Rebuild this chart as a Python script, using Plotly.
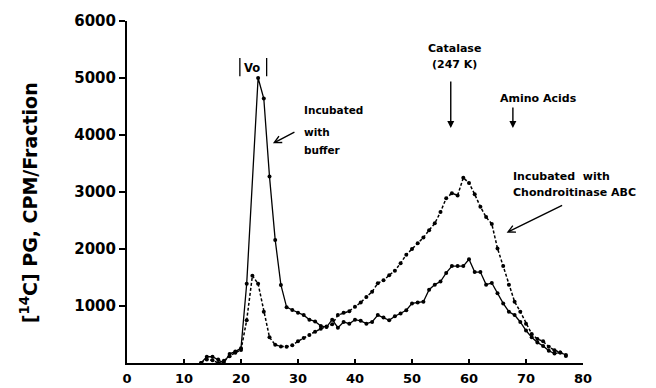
import plotly.graph_objects as go

# ---- data ----
fractions_buffer = [13, 14, 15, 16, 17, 18, 19, 20, 21, 23, 24, 25, 26, 27, 28, 29, 30,
                    31, 32, 33, 34, 35, 36, 37, 38, 39, 40, 41, 42, 43, 44, 45, 46, 47,
                    48, 49, 50, 51, 52, 53, 54, 55, 56, 57, 58, 59, 60, 61, 62, 63, 64,
                    65, 66, 67, 68, 69, 70, 71, 72, 73, 74, 75, 76, 77]
cpm_buffer = [0, 110, 110, 60, 0, 160, 200, 260, 1390, 5000, 4640, 3270, 2160, 1370, 980, 930, 880,
              840, 760, 730, 650, 630, 760, 620, 720, 690, 760, 740, 690, 720, 840, 800, 750, 820,
              870, 925, 1045, 1060, 1075, 1285, 1375, 1430, 1580, 1700, 1700, 1700, 1820, 1595, 1595, 1375, 1405,
              1225, 1045, 900, 840, 720, 570, 450, 360, 300, 215, 165, 185, 140]

fractions_abc = [13, 14, 15, 16, 17, 18, 19, 20, 21, 22, 23, 24, 25, 26, 27, 28, 29, 30,
                 31, 32, 33, 34, 35, 36, 37, 38, 39, 40, 41, 42, 43, 44, 45, 46, 47,
                 48, 49, 50, 51, 52, 53, 54, 55, 56, 57, 58, 59, 60, 61, 62, 63, 64,
                 65, 66, 67, 68, 69, 70, 71, 72, 73, 74, 75, 76, 77]
cpm_abc = [0, 60, 50, 0, 40, 120, 180, 230, 750, 1530, 1390, 900, 450, 320, 290, 285, 310, 380,
           440, 490, 550, 600, 640, 680, 840, 880, 910, 985, 1060, 1160, 1250, 1400, 1450, 1540, 1620,
           1750, 1900, 2000, 2100, 2200, 2330, 2450, 2650, 2890, 2980, 2940, 3250, 3160, 2960, 2740, 2560, 2440,
           2010, 1700, 1375, 1075, 900, 690, 510, 420, 380, 285, 225, 185, 125]

x_ticks = [0, 10, 20, 30, 40, 50, 60, 70, 80]
y_ticks = [1000, 2000, 3000, 4000, 5000, 6000]

FONT = "DejaVu Sans"

fig = go.Figure()
fig.add_trace(go.Scatter(
    x=fractions_buffer, y=cpm_buffer, mode="lines+markers",
    line=dict(color="black", width=1.3),
    marker=dict(size=4, color="black"), cliponaxis=False, showlegend=False))
fig.add_trace(go.Scatter(
    x=fractions_abc, y=cpm_abc, mode="lines+markers",
    line=dict(color="black", width=1.5, dash="3px,2px"),
    marker=dict(size=4, color="black"), cliponaxis=False, showlegend=False))

def txt(x, y, s, size=11, xanchor="center"):
    return dict(x=x, y=y, xref="x", yref="y", text=s, showarrow=False,
                xanchor=xanchor, yanchor="middle",
                font=dict(family=FONT, size=size, color="black", weight="bold"))

def arrow(x, y, ax, ay, head=2):
    return dict(x=x, y=y, xref="x", yref="y", ax=ax, ay=ay, text="", showarrow=True,
                arrowhead=head, arrowsize=1, arrowwidth=1.4, arrowcolor="black")

annotations = [
    txt(22.0, 5170, "Vo", size=11.5),
    txt(57.4, 5520, "Catalase"),
    txt(57.4, 5240, "(247 K)"),
    arrow(56.8, 4123, 0, -48, head=2),
    txt(65.0, 4649, "Amino Acids", xanchor="left"),
    arrow(67.7, 4123, 0, -22, head=2),
    txt(30.7, 4439, "Incubated", size=10.5, xanchor="left"),
    txt(30.7, 4058, "with", size=10.5, xanchor="left"),
    txt(30.7, 3737, "buffer", size=10.5, xanchor="left"),
    arrow(25.6, 3854, 23, -12, head=5),
    txt(67.4, 3270, "Incubated  with", xanchor="left"),
    txt(67.4, 2990, "Chondroitinase ABC", xanchor="left"),
    arrow(66.6, 2286, 57, -28, head=5),
    dict(x=-0.215, y=0.47, xref="paper", yref="paper", text="[<sup>14</sup>C] PG, CPM/Fraction",
         showarrow=False, textangle=-90, xanchor="center", yanchor="middle",
         font=dict(family=FONT, size=19, color="black", weight="bold")),
]

shapes = [
    dict(type="line", xref="x", yref="y", x0=19.8, x1=19.8, y0=5030, y1=5350,
         line=dict(color="black", width=1.3)),
    dict(type="line", xref="x", yref="y", x0=24.5, x1=24.5, y0=5030, y1=5350,
         line=dict(color="black", width=1.3)),
]

fig.update_layout(
    width=656, height=388,
    margin=dict(l=127, r=73, t=21, b=25, autoexpand=False),
    plot_bgcolor="white", paper_bgcolor="white",
    annotations=annotations, shapes=shapes,
    xaxis=dict(range=[0, 80], tickvals=x_ticks, ticktext=[str(v) for v in x_ticks],
               showline=True, linecolor="black", linewidth=2, automargin=False,
               ticks="inside", ticklen=4, tickwidth=1.5, tickcolor="black",
               showgrid=False, zeroline=False, ticklabelstandoff=2,
               tickfont=dict(family=FONT, size=13, color="black", weight="bold")),
    yaxis=dict(range=[0, 6000], tickvals=y_ticks, ticktext=[str(v) for v in y_ticks],
               showline=True, linecolor="black", linewidth=2, automargin=False,
               ticks="outside", ticklen=6, tickwidth=1.5, tickcolor="black",
               showgrid=False, zeroline=False, ticklabelstandoff=0,
               tickfont=dict(family=FONT, size=15, color="black", weight="bold")),
)

fig.write_html("out.html")
